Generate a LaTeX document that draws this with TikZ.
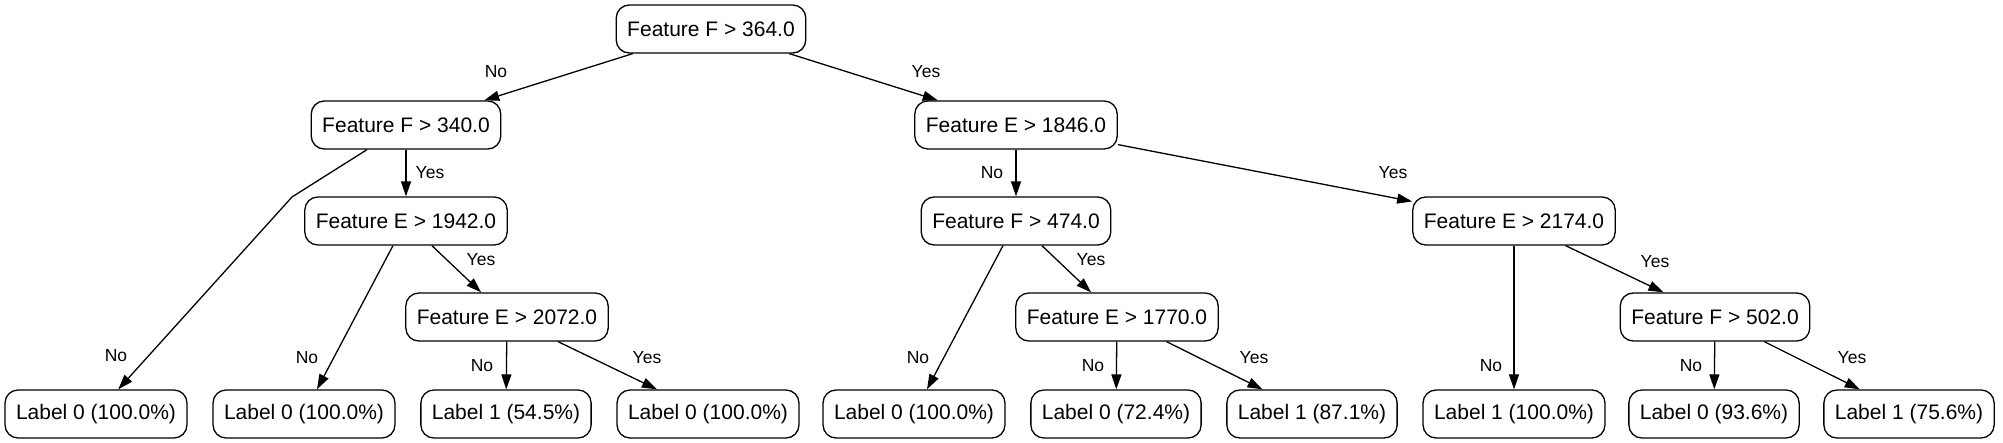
\documentclass[tikz,border=0pt]{standalone}
\usepackage{fontspec}
\setmainfont{Liberation Sans}
\usetikzlibrary{arrows.meta}
\begin{document}
\begin{tikzpicture}[x=1pt,y=-1pt,
  box/.style={draw,line width=1.3pt,rounded corners=13pt,minimum height=48pt,inner xsep=11pt,font=\fontsize{21}{24}\selectfont},
  edge/.style={draw,line width=1.3pt,-{Triangle[length=15pt,width=10pt]}},
  lab/.style={font=\fontsize{17.5}{20}\selectfont,inner sep=0pt}]
\useasboundingbox (0,0) rectangle (2003,443);
% internal nodes
\node[box] (r)  at (711,29)  {Feature F > 364.0};
\node[box] (a)  at (406,125) {Feature F > 340.0};
\node[box] (b)  at (1016,125) {Feature E > 1846.0};
\node[box] (c)  at (406,221) {Feature E > 1942.0};
\node[box] (d)  at (1016,221) {Feature F > 474.0};
\node[box] (e)  at (1514,221) {Feature E > 2174.0};
\node[box] (f)  at (507,317) {Feature E > 2072.0};
\node[box] (g)  at (1117,317) {Feature E > 1770.0};
\node[box] (h)  at (1715,317) {Feature F > 502.0};
% leaves
\node[box] (l1)  at (96,414)   {Label 0 (100.0\%)};
\node[box] (l2)  at (304,414)  {Label 0 (100.0\%)};
\node[box] (l3)  at (506,414)  {Label 1 (54.5\%)};
\node[box] (l4)  at (708,414)  {Label 0 (100.0\%)};
\node[box] (l5)  at (914,414)  {Label 0 (100.0\%)};
\node[box] (l6)  at (1116,414) {Label 0 (72.4\%)};
\node[box] (l7)  at (1312,414) {Label 1 (87.1\%)};
\node[box] (l8)  at (1514,414) {Label 1 (100.0\%)};
\node[box] (l9)  at (1714,414) {Label 0 (93.6\%)};
\node[box] (l10) at (1909,414) {Label 1 (75.6\%)};
\coordinate (bend) at (292,197);
% edges
\draw[edge] (r) -- (a);
\draw[edge] (r) -- (b);
\draw[edge] (a) -- (bend) -- (l1);
\draw[edge] (a) -- (c);
\draw[edge] (c) -- (l2);
\draw[edge] (c) -- (f);
\draw[edge] (f) -- (l3);
\draw[edge] (f) -- (l4);
\draw[edge] (b) -- (d);
\draw[edge] (b) -- (e);
\draw[edge] (d) -- (l5);
\draw[edge] (d) -- (g);
\draw[edge] (g) -- (l6);
\draw[edge] (g) -- (l7);
\draw[edge] (e) -- (l8);
\draw[edge] (e) -- (h);
\draw[edge] (h) -- (l9);
\draw[edge] (h) -- (l10);
% edge labels
\node[lab] (t1)  at (496,72)   {No};
\node[lab] (t2)  at (926,72)   {Yes};
\node[lab] (t3)  at (116,356)  {No};
\node[lab] (t4)  at (430,173)  {Yes};
\node[lab] (t5)  at (307,358)  {No};
\node[lab] (t6)  at (481,260)  {Yes};
\node[lab] (t7)  at (482,366)  {No};
\node[lab] (t8)  at (647,358)  {Yes};
\node[lab] (t9)  at (992,173)  {No};
\node[lab] (t10) at (918,358)  {No};
\node[lab] (t11) at (1091,260) {Yes};
\node[lab] (t12) at (1093,366) {No};
\node[lab] (t13) at (1254,358) {Yes};
\node[lab] (t14) at (1393,173) {Yes};
\node[lab] (t15) at (1491,366) {No};
\node[lab] (t16) at (1655,262) {Yes};
\node[lab] (t17) at (1691,366) {No};
\node[lab] (t18) at (1852,358) {Yes};
\end{tikzpicture}
\end{document}
